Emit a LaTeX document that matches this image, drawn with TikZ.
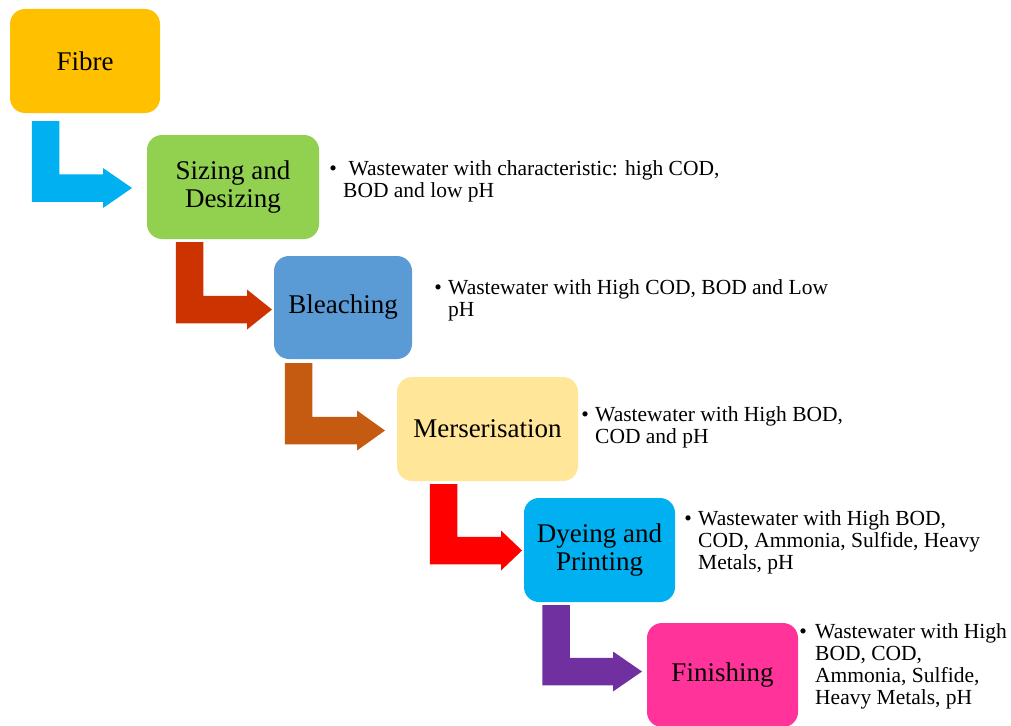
\documentclass[tikz,border=0pt]{standalone}
\usepackage{fontspec}
\setmainfont{Liberation Serif}
\usetikzlibrary{calc}
\definecolor{cFibre}{HTML}{FFC000}
\definecolor{cSize}{HTML}{92D050}
\definecolor{cBleach}{HTML}{5B9BD5}
\definecolor{cMerc}{HTML}{FFE699}
\definecolor{cDye}{HTML}{00B0F0}
\definecolor{cFin}{HTML}{FF3399}
\definecolor{aCyan}{HTML}{00B0F0}
\definecolor{aRust}{HTML}{CC3300}
\definecolor{aOrange}{HTML}{C55A11}
\definecolor{aRed}{HTML}{FF0000}
\definecolor{aPurple}{HTML}{7030A0}
\newcommand\bentarrow[4]{%
  \fill[#1] let \p1=(#2), \p2=(#3) in
    (\x1-13.75pt,\y1) -- (\x1+13.75pt,\y1) -- (\x1+13.75pt,\y2+13.75pt)
    -- (\x2-#4,\y2+13.75pt) -- (\x2-#4,\y2+20pt) -- (\x2,\y2)
    -- (\x2-#4,\y2-20pt) -- (\x2-#4,\y2-13.75pt) -- (\x1-13.75pt,\y2-13.75pt) -- cycle;}
\newcommand\bul[2]{\makebox[0pt]{\textbullet}\hspace{#1}\begin{tabular}[t]{@{}l@{}}#2\end{tabular}}
\tikzset{
  stage/.style={rectangle, rounded corners=15pt, inner sep=0pt, align=center,
    font=\fontsize{27}{28}\selectfont, text=black},
  note/.style={anchor=base west, inner sep=0pt, align=left,
    font=\fontsize{21.5}{22}\selectfont, text=black}
}
\begin{document}
\begin{tikzpicture}[x=1pt,y=-1pt]
\useasboundingbox (0,0) rectangle (1011,725);
% stages
\node[stage, fill=cFibre, minimum width=150pt, minimum height=104pt] (fibre) at (85,61) {Fibre};
\node[stage, fill=cSize, minimum width=172pt, minimum height=104pt] (size) at (233,187) {Sizing and\\Desizing};
\node[stage, fill=cBleach, minimum width=138pt, minimum height=103pt] (bleach) at (343,307.5) {Bleaching};
\node[stage, fill=cMerc, minimum width=181pt, minimum height=104pt] (merc) at (487.5,429) {Merserisation};
\node[stage, fill=cDye, minimum width=151pt, minimum height=104pt] (dye) at (599.5,550) {Dyeing and\\Printing};
\node[stage, fill=cFin, minimum width=151pt, minimum height=104pt] (fin) at (722.5,675) {Finishing};
% arrow anchors
\coordinate (s1) at (45.5,121);  \coordinate (t1) at (132,188);
\coordinate (s2) at (189.5,242); \coordinate (t2) at (272,309.5);
\coordinate (s3) at (298.5,363); \coordinate (t3) at (385,430.5);
\coordinate (s4) at (443.5,484); \coordinate (t4) at (522,550.5);
\coordinate (s5) at (556,605);   \coordinate (t5) at (642,671.5);
\bentarrow{aCyan}{s1}{t1}{29pt}
\bentarrow{aRust}{s2}{t2}{25pt}
\bentarrow{aOrange}{s3}{t3}{28pt}
\bentarrow{aRed}{s4}{t4}{21pt}
\bentarrow{aPurple}{s5}{t5}{29pt}
% notes
\node[note] (n1) at (333,175) {\bul{10pt}{\ Wastewater with characteristic: high COD,\\BOD and low pH}};
\node[note] (n2) at (438,294) {\bul{10pt}{Wastewater with High COD, BOD and Low\\pH}};
\node[note] (n3) at (585,421) {\bul{10pt}{Wastewater with High BOD,\\COD and pH}};
\node[note] (n4) at (688,525) {\bul{10pt}{Wastewater with High BOD,\\COD, Ammonia, Sulfide, Heavy\\Metals, pH}};
\node[note] (n5) at (803,638) {\bul{12pt}{Wastewater with High\\BOD, COD,\\Ammonia, Sulfide,\\Heavy Metals, pH}};
\end{tikzpicture}
\end{document}
